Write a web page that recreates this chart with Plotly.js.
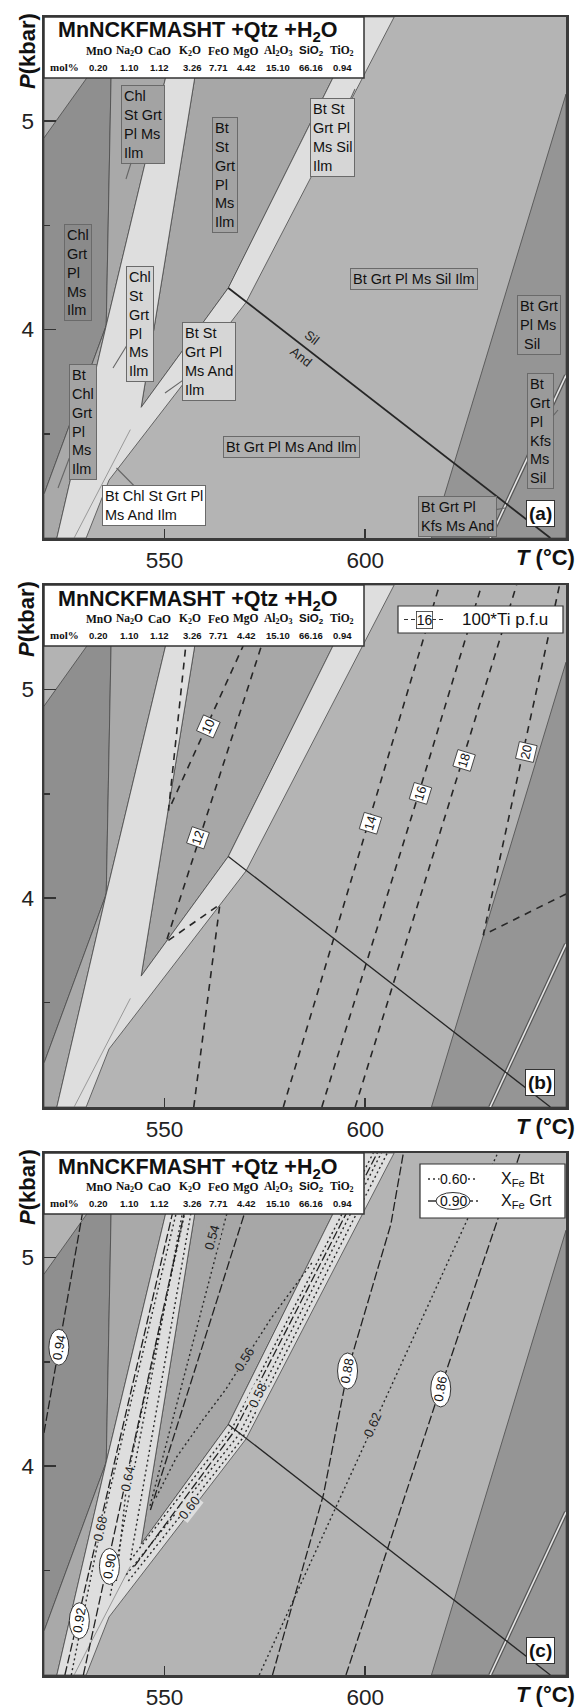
<!DOCTYPE html>
<html><head><meta charset="utf-8">
<script src="https://cdn.plot.ly/plotly-3.0.1.min.js"></script>
<style>body{margin:0;background:#fff}#chart{width:582px;height:1707px}</style>
</head><body><div id="chart"></div>
<script>
// ---------------- DATA (T in °C, P in kbar) ----------------
const xTickVals = [550, 600];
const yTickVals = [4, 5];
const yMinorVals = [3.5, 4.5];

// field boundaries (polygons)
const darkLeftT = [520, 535.5, 537, 520];          const darkLeftP = [3.21, 4.02, 5.5, 5.5];
const topLeftT  = [520, 541.5, 520];               const topLeftP  = [4.92, 5.5, 5.5];
const chlStT    = [537, 553.9, 535.5];             const chlStP    = [5.5, 5.5, 4.02];
const btChlT    = [535.5, 523.2, 520, 520];        const btChlP    = [4.02, 3.0, 3.0, 3.21];
const btStT     = [560.0, 599.5, 565.9, 544.2];    const btStP     = [5.5, 5.5, 4.2, 3.627];
const bandT     = [553.9, 535.5, 523.2, 530.5, 536.2, 570.3, 607.2, 599.5, 565.9, 544.2, 560.0];
const bandP     = [5.5, 4.02, 3.0, 3.0, 3.278, 4.13, 5.5, 5.5, 4.2, 3.627, 5.5];
const rightDarkT= [616.5, 650, 650];               const rightDarkP= [3.0, 3.0, 5.13];
const kfsT      = [631.1, 650];                    const kfsP      = [3.0, 3.78];
const silAndT   = [565.9, 646.1];                  const silAndP   = [4.2, 3.0];
const innerT    = [541.5, 527.5];                  const innerP    = [3.52, 3.0];

// panel (b): 100*Ti p.f.u isopleths
const ti10T = [556.9, 551.0, 569.4, 575.9];        const ti10P = [5.5, 4.42, 5.2, 5.5];
const ti12T = [557.3, 563.8, 550.4, 574.0, 579.3]; const ti12P = [3.0, 3.97, 3.79, 5.2, 5.5];
const ti14T = [579.6, 600.8, 618.5];               const ti14P = [3.0, 4.36, 5.5];
const ti16T = [589.2, 613.3, 629.0];               const ti16P = [3.0, 4.5, 5.5];
const ti18T = [597.5, 624.2, 637.7];               const ti18P = [3.0, 4.66, 5.5];
const ti20T = [650, 629.4, 639.3, 648.4];          const ti20P = [4.02, 3.824, 4.70, 5.5];
const tiLabels = ['10', '12', '14', '16', '18', '20'];
const tiLabelT = [561.0, 558.4, 601.2, 613.8, 624.6, 640.0];
const tiLabelP = [4.82, 4.29, 4.36, 4.50, 4.66, 4.70];
const tiLabelAngle = [-66, -71, -73, -73, -73, -77];

// panel (c): X_Fe garnet isopleths
const g094T = [520, 523.7, 532.2];            const g094P = [4.16, 4.57, 5.5];
const g092T = [525.2, 555.5];                 const g092P = [3.0, 5.5];
const g090T = [529.8, 558.2];                 const g090P = [3.0, 5.5];
const gStT  = [546.5, 574.7];                 const gStP  = [3.79, 5.5];
const gBandT= [542.5, 567.5, 603.0];          const gBandP= [3.52, 4.17, 5.5];
const g088T = [576.9, 589.6, 595.6, 606.4, 609.5]; const g088P = [3.0, 3.864, 4.456, 5.16, 5.5];
const g086T = [595.2, 618.6, 638.6];          const g086P = [3.0, 4.366, 5.5];
// panel (c): X_Fe biotite isopleths
const b068T = [526.8, 534.1, 556.5];          const b068P = [3.0, 3.70, 5.5];
const bB1T  = [536.5, 557.3];                 const bB1P  = [3.38, 5.5];
const b064T = [538.0, 540.8, 558.3];          const b064P = [3.45, 3.95, 5.5];
const bB2T  = [541.5, 559.2];                 const bB2P  = [3.55, 5.5];
const b054T = [546.4, 565.5, 569.5];          const b054P = [3.81, 5.21, 5.5];
const b056T = [547.9, 553.0, 559.6, 565.2, 576.5, 586.8]; const b056P = [3.85, 4.043, 4.223, 4.366, 4.707, 4.976];
const b058T = [541.5, 566.8, 602.0];          const b058P = [3.55, 4.18, 5.5];
const bB3T  = [540.5, 568.5, 604.0];          const bB3P  = [3.48, 4.15, 5.5];
const b060T = [541.0, 569.3, 605.5];          const b060P = [3.45, 4.13, 5.5];
const b062T = [573.6, 602.1, 626.1, 633.0];   const b062P = [3.0, 4.2, 5.21, 5.5];
const grtLabels = ['0.94', '0.92', '0.90', '0.88', '0.86'];
const grtLabelT = [523.7, 528.8, 536.3, 595.6, 618.8];
const grtLabelP = [4.57, 3.26, 3.52, 4.456, 4.37];
const btLabels = ['0.54', '0.56', '0.58', '0.60', '0.62', '0.64', '0.68'];
const btLabelT = [561.9, 569.9, 573.2, 556.3, 601.7, 540.9, 534.1];
const btLabelP = [5.093, 4.51, 4.339, 3.80, 4.196, 3.94, 3.70];
const btLabelAngle = [-75, -58, -64, -52, -66, -78, -78];

// composition table
const oxides = ['MnO', 'Na<sub>2</sub>O', 'CaO', 'K<sub>2</sub>O', 'FeO', 'MgO', 'Al<sub>2</sub>O<sub>3</sub>', 'SiO<sub>2</sub>', 'TiO<sub>2</sub>'];
const molPercent = ['0.20', '1.10', '1.12', '3.26', '7.71', '4.42', '15.10', '66.16', '0.94'];

// phase field labels of panel (a)
const fieldLabels = [
  {t:'Chl<br>St Grt<br>Pl Ms<br>Ilm', box:[120,89,166.5,159], bg:'#a3a3a3', tip:[126,179]},
  {t:'Bt<br>St<br>Grt<br>Pl<br>Ms<br>Ilm', box:[207.5,121,242.5,229], bg:'#a3a3a3'},
  {t:'Bt St<br>Grt Pl<br>Ms Sil<br>Ilm', box:[308,102,357,173], bg:'#d6d6d6', tip:[355,89]},
  {t:'Chl<br>Grt<br>Pl<br>Ms<br>Ilm', box:[62,230,93,315], bg:'#8a8a8a'},
  {t:'Chl<br>St<br>Grt<br>Pl<br>Ms<br>Ilm', box:[126,273,154,375], bg:'#d6d6d6', tip:[113,368]},
  {t:'Bt St<br>Grt Pl<br>Ms And<br>Ilm', box:[180.5,325,238,398], bg:'#d6d6d6', tip:[165,393]},
  {t:'Bt<br>Chl<br>Grt<br>Pl<br>Ms<br>Ilm', box:[67,368,98.5,477], bg:'#a3a3a3', tip:[58,488]},
  {t:'Bt Chl St Grt Pl<br>Ms And Ilm', box:[97,484,210,527], bg:'#ffffff', tip:[116.5,468]},
  {t:'Bt Grt Pl Ms Sil Ilm', box:[345,266,482,291], bg:'#b0b0b0'},
  {t:'Bt Grt Pl Ms And Ilm', box:[217,434,366,459], bg:'#b0b0b0'},
  {t:'Bt Grt<br>Pl Ms<br> Sil', box:[516,298,562,352], bg:'#9a9a9a'},
  {t:'Bt<br>Grt<br>Pl<br>Kfs<br>Ms<br>Sil', box:[526,380,554.5,482], bg:'#9a9a9a', tip:[558,410]},
  {t:'Bt Grt Pl<br>Kfs Ms And', box:[417,500,497,533], bg:'#a0a0a0', tip:[505,508]}
];
const panelTags = ['(a)', '(b)', '(c)'];

// ---------------- LAYOUT CONSTANTS ----------------
const W = 582, H = 1707, L = 44, R = 566;
const tops = [17, 585, 1153], bots = [538, 1107, 1675];
const PX = x => x / W, PY = y => 1 - y / H;
const AX = [['x','y'], ['x2','y2'], ['x3','y3']];
const oxideX = [98.5, 129.7, 159.8, 189.8, 218, 246, 278, 311, 342];
const FONT = 'Liberation Sans, Arial, sans-serif';
const SERIF = 'Liberation Serif, Times New Roman, serif';

const C = {dark:'#8f8f8f', topLeft:'#b3b3b3', mid:'#a9a9a9', st:'#a7a7a7', band:'#dedede', main:'#b4b4b4', rdark:'#959595', edge:'#4a4a4a'};

function poly(ax, T, P, fill) {
  return {type:'scatter', mode:'lines', x:T.concat([T[0]]), y:P.concat([P[0]]), xaxis:ax[0], yaxis:ax[1],
    fill:'toself', fillcolor:fill, line:{color:C.edge, width:0.8}, hoverinfo:'skip', showlegend:false};
}
function ln(ax, T, P, color, width, dash) {
  return {type:'scatter', mode:'lines', x:T, y:P, xaxis:ax[0], yaxis:ax[1],
    line:{color:color, width:width, dash:dash || 'solid'}, hoverinfo:'skip', showlegend:false};
}
// paper-anchored text helper
function ptext(x, y, text, font, extra) {
  return Object.assign({xref:'paper', yref:'paper', x:PX(x), y:PY(y), text:text, showarrow:false,
    xanchor:'center', yanchor:'middle', font:font}, extra || {});
}

const traces = [];
for (let k = 0; k < 3; k++) {
  const ax = AX[k];
  traces.push(poly(ax, darkLeftT, darkLeftP, C.dark));
  traces.push(poly(ax, topLeftT, topLeftP, C.topLeft));
  traces.push(poly(ax, chlStT, chlStP, C.mid));
  traces.push(poly(ax, btChlT, btChlP, C.mid));
  traces.push(poly(ax, btStT, btStP, C.st));
  traces.push(poly(ax, bandT, bandP, C.band));
  traces.push(poly(ax, rightDarkT, rightDarkP, C.rdark));
  traces.push(ln(ax, kfsT, kfsP, '#555', 4));
  traces.push(ln(ax, kfsT, kfsP, '#e6e6e6', 1.6));
  traces.push(ln(ax, innerT, innerP, '#7a7a7a', 0.7));
  traces.push(ln(ax, silAndT, silAndP, '#262626', k === 0 ? 1.8 : 1.3));
}
// panel b isopleths
const tiDash = '7px,6px';
[[ti10T,ti10P],[ti12T,ti12P],[ti14T,ti14P],[ti16T,ti16P],[ti18T,ti18P],[ti20T,ti20P]].forEach(s =>
  traces.push(ln(AX[1], s[0], s[1], '#262626', 1.6, tiDash)));
// panel c isopleths
const grtDash = '9px,3px', btDash = '2px,3px';
[[g094T,g094P],[g092T,g092P],[g090T,g090P],[gStT,gStP],[gBandT,gBandP],[g088T,g088P],[g086T,g086P]].forEach(s =>
  traces.push(ln(AX[2], s[0], s[1], '#222', 1.3, grtDash)));
[[b068T,b068P],[bB1T,bB1P],[b064T,b064P],[bB2T,bB2P],[b054T,b054P],[b056T,b056P],[b058T,b058P],[bB3T,bB3P],[b060T,b060P],[b062T,b062P]].forEach(s =>
  traces.push(ln(AX[2], s[0], s[1], '#2a2a2a', 1.4, btDash)));

const layout = {width:W, height:H, margin:{l:0,r:0,t:0,b:0}, paper_bgcolor:'#ffffff', plot_bgcolor:C.main,
  showlegend:false, shapes:[], annotations:[]};
for (let k = 0; k < 3; k++) {
  const xn = k ? 'xaxis' + (k+1) : 'xaxis', yn = k ? 'yaxis' + (k+1) : 'yaxis';
  const common = {ticks:'inside', tickwidth:1.5, tickcolor:'#333', showline:true, mirror:true, linecolor:'#3a3a3a',
    linewidth:2.5, showgrid:false, zeroline:false, fixedrange:true, tickfont:{family:FONT, size:22.5, color:'#222'}};
  layout[xn] = Object.assign({domain:[PX(L), PX(R)], range:[520,650], anchor:AX[k][1], tickmode:'array',
    tickvals:xTickVals, ticklen:9}, common);
  layout[yn] = Object.assign({domain:[PY(bots[k]), PY(tops[k])], range:[3,5.5], anchor:AX[k][0], tickmode:'array',
    tickvals:yTickVals, ticklen:12, ticklabelstandoff:3,
    minor:{tickmode:'array', tickvals:yMinorVals, ticks:'inside', ticklen:6, tickwidth:1.5, tickcolor:'#333'}}, common);

  const t = tops[k], b = bots[k];
  // title box
  layout.shapes.push({type:'rect', xref:'paper', yref:'paper', x0:PX(L), x1:PX(364), y0:PY(t), y1:PY(t+61),
    fillcolor:'#ffffff', line:{color:'#333', width:1.5}});
  layout.annotations.push(ptext(198, t+15, '<b>MnNCKFMASHT +Qtz +H<sub>2</sub>O</b>', {family:FONT, size:21.5, color:'#111'}));
  oxides.forEach((o, i) => layout.annotations.push(ptext(oxideX[i], t+34, '<b>' + o + '</b>',
    {family: o.startsWith('SiO') ? FONT : SERIF, size:11.5, color:'#111'})));
  layout.annotations.push(ptext(64, t+50, '<b>mol%</b>', {family:SERIF, size:11, color:'#111'}));
  molPercent.forEach((v, i) => layout.annotations.push(ptext(oxideX[i] + (i===3?3:0), t+50, '<b>' + v + '</b>',
    {family:FONT, size:9.5, color:'#111'})));
  // axis titles
  layout.annotations.push(ptext(27, t+34, '<b><i>P</i>(kbar)</b>', {family:FONT, size:22, color:'#111'}, {textangle:-90}));
  layout.annotations.push(ptext(577, b+19, '<b><i>T</i> (°C)</b>', {family:FONT, size:22, color:'#111'}, {xanchor:'right'}));
  // panel tag
  layout.annotations.push(ptext(540, b-24.5, '<b>' + panelTags[k] + '</b>', {family:FONT, size:19, color:'#111'},
    {bgcolor:'#ffffff', bordercolor:'#333', borderwidth:1, borderpad:2}));
}

// panel a field labels
fieldLabels.forEach(f => {
  const cx = (f.box[0] + f.box[2]) / 2, cy = (f.box[1] + f.box[3]) / 2;
  const a = {xref:'paper', yref:'paper', text:f.t, align:'left', font:{family:FONT, size:14.5, color:'#111'},
    bgcolor:f.bg, bordercolor:'#6a6a6a', borderwidth:1, borderpad:2};
  if (f.tip) {
    Object.assign(a, {x:PX(f.tip[0]), y:PY(f.tip[1]), showarrow:true, arrowhead:0, arrowwidth:1.1, arrowcolor:'#666',
      ax:cx - f.tip[0], ay:cy - f.tip[1]});
  } else {
    Object.assign(a, {x:PX(cx), y:PY(cy), showarrow:false, xanchor:'center', yanchor:'middle'});
  }
  layout.annotations.push(a);
});
layout.annotations.push(ptext(312, 337, 'Sil', {family:FONT, size:13, color:'#222'}, {textangle:38}));
layout.annotations.push(ptext(301, 356, 'And', {family:FONT, size:13, color:'#222'}, {textangle:38}));

// panel b labels
tiLabels.forEach((s, i) => layout.annotations.push({xref:'x2', yref:'y2', x:tiLabelT[i], y:tiLabelP[i], text:s,
  textangle:tiLabelAngle[i], showarrow:false, xanchor:'center', yanchor:'middle', font:{family:FONT, size:13, color:'#111'},
  bgcolor:'#ffffff', bordercolor:'#333', borderwidth:0.8, borderpad:1}));
// panel b legend
layout.shapes.push({type:'rect', xref:'paper', yref:'paper', x0:PX(398), x1:PX(563), y0:PY(606), y1:PY(633),
  fillcolor:'#ffffff', line:{color:'#333', width:1.2}});
layout.shapes.push({type:'line', xref:'paper', yref:'paper', x0:PX(404), x1:PX(446), y0:PY(619.5), y1:PY(619.5),
  line:{color:'#333', width:1.2, dash:'4px,3px'}});
layout.annotations.push(ptext(424.5, 619.5, '16', {family:FONT, size:14, color:'#111'},
  {bgcolor:'#ffffff', bordercolor:'#333', borderwidth:0.8, borderpad:0}));
layout.annotations.push(ptext(460, 619.5, '100*Ti p.f.u', {family:FONT, size:17, color:'#111'}, {xanchor:'left'}));

// panel c labels
grtLabels.forEach((s, i) => {
  layout.shapes.push({type:'circle', xref:'x3', yref:'y3', xsizemode:'pixel', ysizemode:'pixel',
    xanchor:grtLabelT[i], yanchor:grtLabelP[i], x0:-10, x1:10, y0:-18, y1:18, fillcolor:'#ffffff',
    line:{color:'#333', width:1}});
  layout.annotations.push({xref:'x3', yref:'y3', x:grtLabelT[i], y:grtLabelP[i], text:s, textangle:-80,
    showarrow:false, xanchor:'center', yanchor:'middle', font:{family:FONT, size:13, color:'#111'}});
});
btLabels.forEach((s, i) => {
  const inBand = (i === 2 || i === 3 || i === 5 || i === 6);
  const bg = inBand ? C.band : (i <= 1 ? C.st : C.main);
  layout.annotations.push({xref:'x3', yref:'y3', x:btLabelT[i], y:btLabelP[i], text:s, textangle:btLabelAngle[i],
    showarrow:false, xanchor:'center', yanchor:'middle', font:{family:FONT, size:13, color:'#222'}, bgcolor:bg, borderpad:0});
});
// panel c legend
layout.shapes.push({type:'rect', xref:'paper', yref:'paper', x0:PX(420), x1:PX(565), y0:PY(1164), y1:PY(1218),
  fillcolor:'#ffffff', line:{color:'#333', width:1.2}});
layout.shapes.push({type:'line', xref:'paper', yref:'paper', x0:PX(428), x1:PX(478), y0:PY(1179), y1:PY(1179),
  line:{color:'#333', width:1.3, dash:'2px,3px'}});
layout.shapes.push({type:'line', xref:'paper', yref:'paper', x0:PX(428), x1:PX(478), y0:PY(1201), y1:PY(1201),
  line:{color:'#333', width:1.3, dash:'9px,3px'}});
layout.shapes.push({type:'circle', xref:'paper', yref:'paper', x0:PX(436), x1:PX(470), y0:PY(1209.5), y1:PY(1192.5),
  fillcolor:'#ffffff', line:{color:'#333', width:1}});
layout.annotations.push(ptext(453, 1179, '0.60', {family:FONT, size:14, color:'#111'}, {bgcolor:'#ffffff', borderpad:0}));
layout.annotations.push(ptext(453, 1201, '0.90', {family:FONT, size:14, color:'#111'}));
layout.annotations.push(ptext(499, 1179, 'X<sub>Fe</sub> Bt', {family:FONT, size:16, color:'#111'}, {xanchor:'left'}));
layout.annotations.push(ptext(499, 1201, 'X<sub>Fe</sub> Grt', {family:FONT, size:16, color:'#111'}, {xanchor:'left'}));

Plotly.newPlot('chart', traces, layout, {staticPlot:true, displayModeBar:false});
</script></body></html>
